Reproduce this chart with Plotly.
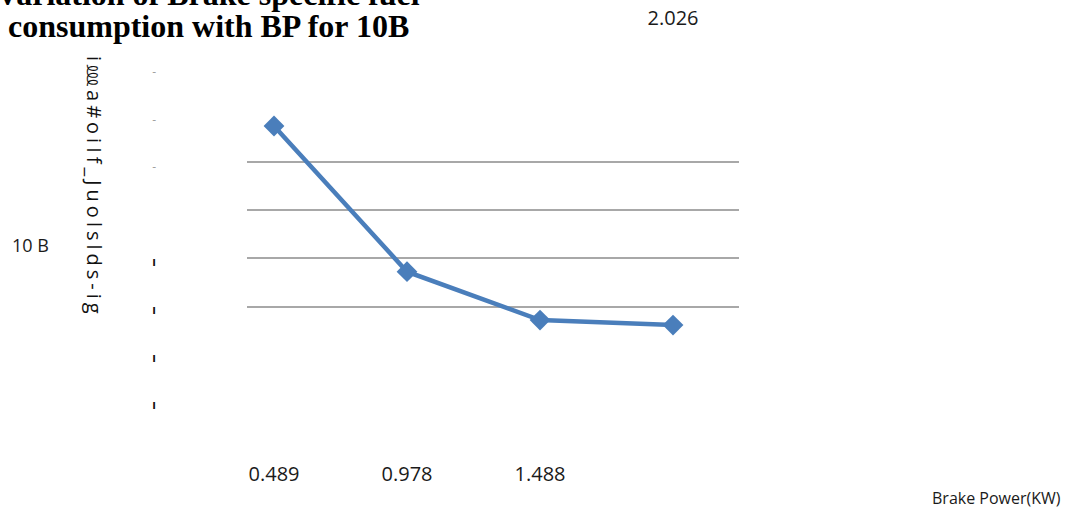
import plotly.graph_objects as go

# Brake power (kW) categories and brake specific fuel consumption for the 10B blend
brake_power = ["0.489", "0.978", "1.488", "2.026"]
bsfc = [1.148, 0.545, 0.345, 0.324]

# horizontal gridlines
grid_vals = [0.4, 0.6, 0.8, 1.0]

# left-hand tick glyphs
side_tick_vals = [0, 0.2, 0.4, 0.6, 1.0, 1.2, 1.4]
side_tick_text = ["<b>ı</b>", "<b>ı</b>", "<b>ı</b>", "<b>ı</b>",
                  "<span style='color:#a0a0a0'>-</span>",
                  "<span style='color:#a0a0a0'>-</span>",
                  "<span style='color:#a0a0a0'>-</span>"]

title_lines = ["Variation of Brake specific fuel", "consumption with BP for 10B"]
y_title = "i\u214fa#oiIf_Juolslds-ig"
series_name = "10 B"
x_title = "Brake Power(KW)"

pos = list(range(len(brake_power)))
bottom_n = 3

W, H = 1066, 515
L, R, T, B = 247, 327, 53, 105
BLUE = "#4a7ebb"
SANS = "Open Sans, Liberation Sans, sans-serif"
SERIF = "Liberation Serif, Times New Roman, serif"

fig = go.Figure()
fig.add_trace(go.Scatter(
    x=pos, y=bsfc, mode="lines+markers", name=series_name,
    line=dict(color=BLUE, width=4.5),
    marker=dict(symbol="diamond", size=16, color=BLUE),
    cliponaxis=False, showlegend=False,
))
# invisible copy that anchors the overlaid axes
fig.add_trace(go.Scatter(
    x=pos, y=bsfc, xaxis="x2", yaxis="y2", mode="markers",
    marker=dict(opacity=0), hoverinfo="skip", showlegend=False,
))

pw = W - L - R
ph = H - T - B


def px_x(p):
    return (p - L) / pw


def px_y(p):
    return (H - B - p) / ph


fig.update_layout(
    width=W, height=H,
    margin=dict(l=L, r=R, t=T, b=B, autoexpand=False),
    paper_bgcolor="white", plot_bgcolor="white",
    font=dict(family=SANS, size=19, color="#1a1a1a"),
    xaxis=dict(
        range=[-0.203, 3.496], showgrid=False, zeroline=False, showline=False,
        tickvals=pos[:bottom_n], ticktext=brake_power[:bottom_n],
        ticks="", ticklabelstandoff=50, automargin=False,
        tickfont=dict(family=SANS, size=20, color="#1a1a1a"),
    ),
    xaxis2=dict(
        overlaying="x", side="top", matches="x",
        showgrid=False, zeroline=False, showline=False,
        tickvals=pos[bottom_n:], ticktext=brake_power[bottom_n:],
        ticks="", ticklabelstandoff=23, automargin=False,
        tickfont=dict(family=SANS, size=20, color="#1a1a1a"),
    ),
    yaxis=dict(
        range=[-0.0273, 1.45], tickvals=grid_vals, showticklabels=False,
        showgrid=True, gridcolor="#a8a8a8", gridwidth=2,
        zeroline=False, showline=False, ticks="", automargin=False,
    ),
    yaxis2=dict(
        overlaying="y", side="left", range=[-0.021, 1.4796],
        tickvals=side_tick_vals, ticktext=side_tick_text,
        showgrid=False, zeroline=False, showline=False, ticks="",
        ticklabelstandoff=90, automargin=False,
        tickfont=dict(family=SANS, size=12, color="#111111"),
    ),
    annotations=[
        dict(text="<b>" + title_lines[0] + "</b>", xref="paper", yref="paper",
             x=px_x(208), y=px_y(-6), xanchor="center", yanchor="middle",
             showarrow=False, font=dict(family=SERIF, size=32, color="#000")),
        dict(text="<b>" + title_lines[1] + "</b>", xref="paper", yref="paper",
             x=px_x(208), y=px_y(26), xanchor="center", yanchor="middle",
             showarrow=False, font=dict(family=SERIF, size=32, color="#000")),
        dict(text="<span style='letter-spacing:4px'>" + y_title + "</span>",
             xref="paper", yref="paper", x=px_x(95), y=px_y(187),
             xanchor="center", yanchor="middle", textangle=90, showarrow=False,
             font=dict(family=SANS, size=20, color="#111")),
        dict(text=series_name, xref="paper", yref="paper",
             x=px_x(30), y=px_y(245), xanchor="center", yanchor="middle",
             showarrow=False, font=dict(family=SANS, size=18, color="#1a1a1a")),
        dict(text=x_title, xref="paper", yref="paper",
             x=px_x(996), y=px_y(498), xanchor="center", yanchor="middle",
             showarrow=False, font=dict(family=SANS, size=16, color="#1a1a1a")),
    ],
)

fig.write_html("out.html")
